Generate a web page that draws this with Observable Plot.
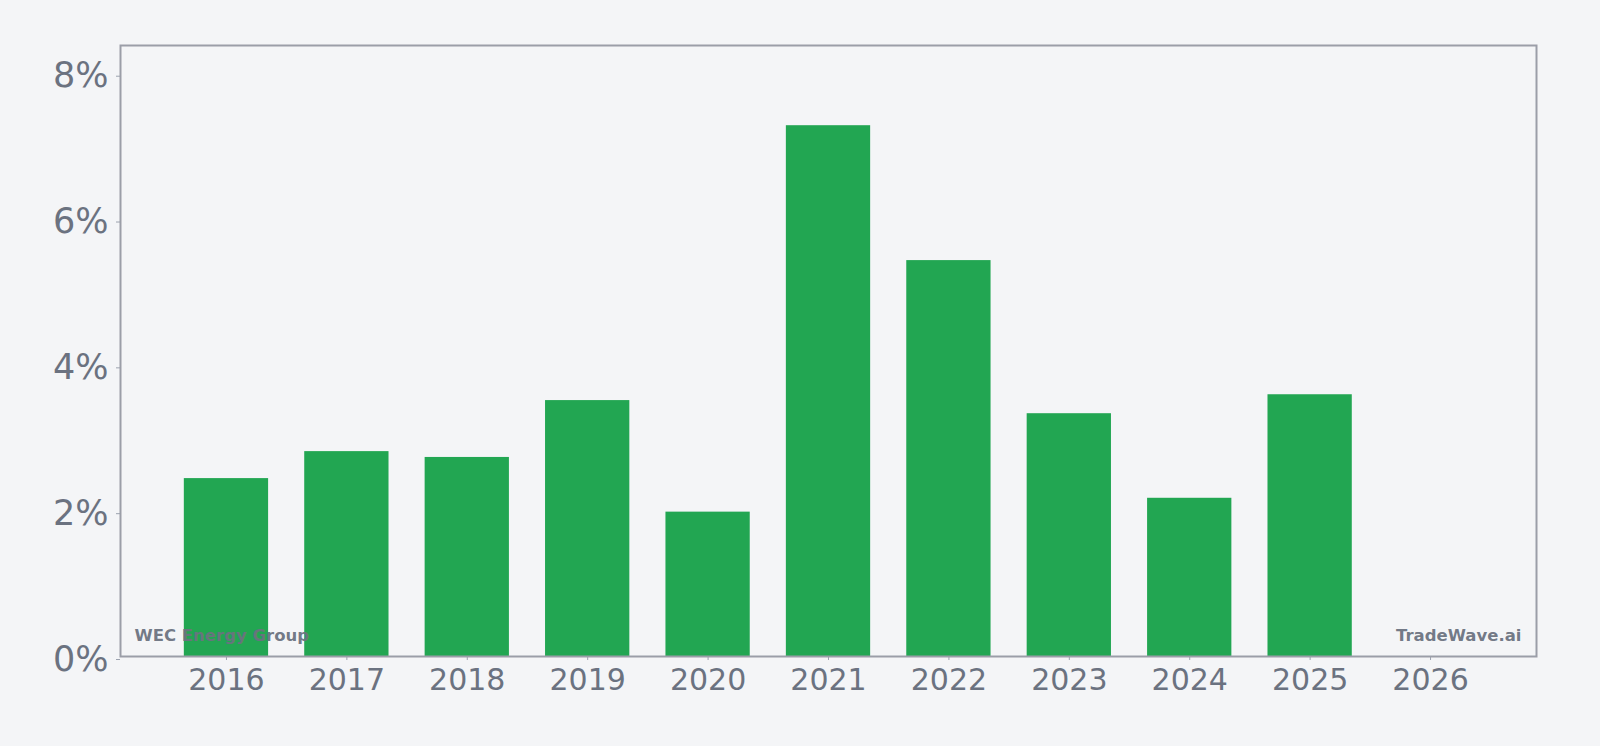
<!DOCTYPE html>
<html>
<head>
<meta charset="utf-8">
<script src="https://cdn.jsdelivr.net/npm/d3@7"></script>
<script src="https://cdn.jsdelivr.net/npm/@observablehq/plot@0.6"></script>
<style>
  html, body { margin: 0; padding: 0; background: #f4f5f7; }
  #chart svg { display: block; background: #f4f5f7; }
</style>
</head>
<body>
<div id="chart"></div>
<script>
const years = ["2016","2017","2018","2019","2020","2021","2022","2023","2024","2025","2026"];
const barYears = ["2016","2017","2018","2019","2020","2021","2022","2023","2024","2025"];
const values = [2.44, 2.81, 2.73, 3.51, 1.98, 7.28, 5.43, 3.33, 2.17, 3.59];
const yTicks = [0, 2, 4, 6, 8];
const brandLeft = "WEC Energy Group";
const brandRight = "TradeWave.ai";

const data = barYears.map((year, i) => ({year, value: values[i]}));

const textColor = "#6b7280";
const chart = Plot.plot({
  width: 1600,
  height: 746,
  marginLeft: 120,
  marginRight: 64,
  marginTop: 45,
  marginBottom: 90,
  style: {background: "#f4f5f7", fontFamily: "DejaVu Sans, sans-serif", color: textColor},
  x: {type: "band", domain: years, paddingInner: 0.3, paddingOuter: 0.53, round: false, label: null},
  y: {domain: [0, 8.38], label: null},
  marks: [
    Plot.barY(data, {x: "year", y: "value", fill: "#22a652"}),
    Plot.axisY({ticks: yTicks, tickFormat: d => d + "%", fontSize: 35, tickSize: 4, tickPadding: 8, dy: 3, stroke: "#9ca3af", color: textColor, label: null}),
    Plot.axisX({fontSize: 30, tickSize: 4, tickPadding: 8, stroke: "#9ca3af", color: textColor, label: null}),
    Plot.frame({stroke: "#9b9ea8", strokeWidth: 2}),
    Plot.text([brandLeft], {frameAnchor: "bottom-left", dx: 14, dy: -16, text: d => d, fontSize: 16.5, fontWeight: "bold", fill: textColor, fillOpacity: 0.95, textAnchor: "start"}),
    Plot.text([brandRight], {frameAnchor: "bottom-right", dx: -15, dy: -16, text: d => d, fontSize: 16.5, fontWeight: "bold", fill: textColor, fillOpacity: 0.95, textAnchor: "end"})
  ]
});
document.getElementById("chart").append(chart);
</script>
</body>
</html>
